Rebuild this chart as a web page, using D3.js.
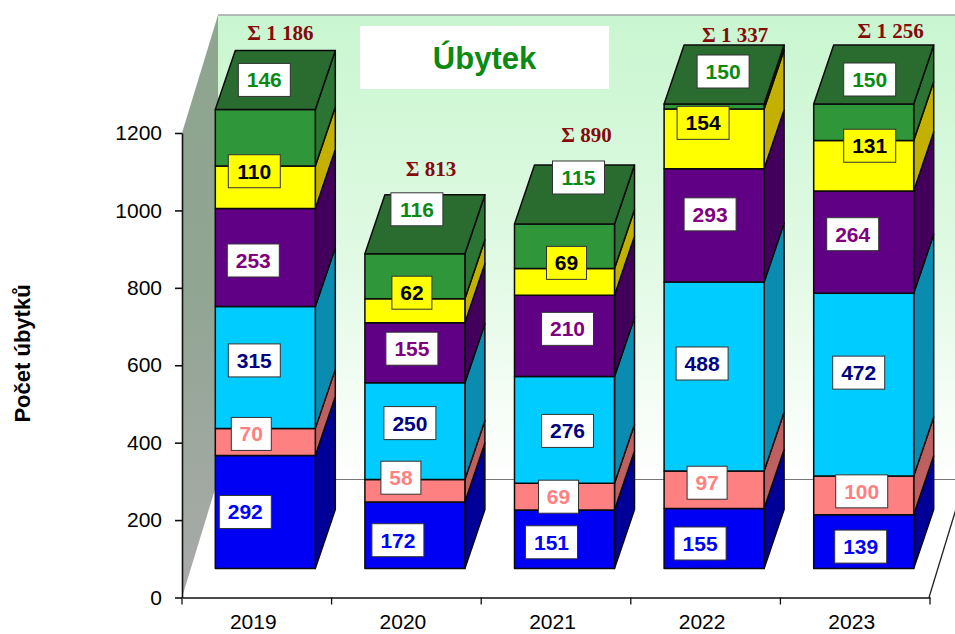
<!DOCTYPE html>
<html><head><meta charset="utf-8">
<script src="https://cdnjs.cloudflare.com/ajax/libs/d3/7.8.5/d3.min.js"></script>
<style>html,body{margin:0;padding:0;background:#fff}svg{display:block}</style>
</head><body><svg id="c" width="955" height="634"></svg>
<script>
const years = ["2019","2020","2021","2022","2023"];
const seriesBlue   = [292,172,151,155,139];
const seriesPink   = [70,58,69,97,100];
const seriesCyan   = [315,250,276,488,472];
const seriesPurple = [253,155,210,293,264];
const seriesYellow = [110,62,69,154,131];
const seriesGreen  = [146,116,115,150,150];
const totals = ["Σ 1 186","Σ 813","Σ 890","Σ 1 337","Σ 1 256"];
const yTicks = [0,200,400,600,800,1000,1200];
const titleText = "Úbytek";
const yTitle = "Počet úbytků";

const series = [
  {v:seriesBlue,  front:"#0000f5",side:"#000099",text:"#0000ff",box:"#fff"},
  {v:seriesPink,  front:"#ff8080",side:"#bf6060",text:"#ff8080",box:"#fff"},
  {v:seriesCyan,  front:"#00ccff",side:"#0a8cb0",text:"#000080",box:"#fff"},
  {v:seriesPurple,front:"#5f0085",side:"#42005c",text:"#800080",box:"#fff"},
  {v:seriesYellow,front:"#ffff00",side:"#c4b000",text:"#000",   box:"#ffff00"},
  {v:seriesGreen, front:"#2f963a",side:"#2c7433",text:"#0a8a14",box:"#fff",topFill:"#2a6b2f"}
];
// hand-placed label nudges (px) per series, per year
const nudgeX = [[-20,-17,-13,-14,-3],[-14,-14,-6,-7,-2],[-11,-5,3,-12,-5],[-12,-3,3,-4,-11],[-11,-3,2,-11,6],[-11,-8,4,-1,-4]];
const nudgeY = [[0,5,3,5,5],[-8,-13,0,-7,-4],[-7,-8,1,-13,-12],[3,-4,-7,-11,-8],[-16,-18,-19,-16,-20],[0,-15,-17,-3,5]];
const totalNudgeX = [-5,-4,2,1,7];
const totalNudgeY = [-17,-26,-30,-10,-14];

const svg = d3.select("#c");
const FF = "'Liberation Sans',Arial,sans-serif";
const axisY0 = 597.5, axisTop = 133, axisL = 182, axisR = 930;
const y = d3.scaleLinear().domain([0,1200]).range([axisY0,axisTop]);
const x = d3.scaleBand().domain(years).range([axisL,axisR]);
const wallDX = 36, wallDY = 118, depthX = 20, depthY = 59;
const barW = 100, barOffset = 33.3, floorLift = 29;

const defs = svg.append("defs");
const g1 = defs.append("linearGradient").attr("id","wall").attr("x1",0).attr("y1",0).attr("x2",0).attr("y2",1);
g1.append("stop").attr("offset",0).attr("stop-color","#c8f6cf");
g1.append("stop").attr("offset",.55).attr("stop-color","#e2fae5");
g1.append("stop").attr("offset",1).attr("stop-color","#ffffff");
const g2 = defs.append("linearGradient").attr("id","side").attr("x1",0).attr("y1",0).attr("x2",0).attr("y2",1);
g2.append("stop").attr("offset",0).attr("stop-color","#8ea58f");
g2.append("stop").attr("offset",.45).attr("stop-color","#90a592");
g2.append("stop").attr("offset",1).attr("stop-color","#aaaaaa");

const wallL = axisL+wallDX, wallT = axisTop-wallDY, floorY = axisY0-wallDY, farR = axisR+wallDX;
const poly = pts => pts.map(p=>p.join(",")).join(" ");
svg.append("polygon").attr("points",poly([[wallL,wallT],[farR,wallT],[farR,floorY],[wallL,floorY]])).attr("fill","url(#wall)");
svg.append("line").attr("x1",wallL).attr("y1",wallT).attr("x2",farR).attr("y2",wallT).attr("stroke","#a5a5a5").attr("stroke-width",1.5);
svg.append("polygon").attr("points",poly([[axisL,axisTop],[wallL,wallT],[wallL,floorY],[axisL,axisY0]])).attr("fill","url(#side)");
svg.append("line").attr("x1",wallL).attr("y1",floorY).attr("x2",farR).attr("y2",floorY).attr("stroke","#777").attr("stroke-width",1.2);
svg.append("line").attr("x1",axisR-1).attr("y1",axisY0).attr("x2",farR-1).attr("y2",floorY).attr("stroke","#222").attr("stroke-width",1.3);

// title box
svg.append("rect").attr("x",360).attr("y",26).attr("width",249).attr("height",63).attr("fill","#fff");
svg.append("text").attr("x",484.5).attr("y",69).attr("text-anchor","middle").attr("font-family",FF).attr("font-weight","bold").attr("font-size",31).attr("fill","#0a8a12").text(titleText);

// axes
const yAxis = d3.axisLeft(y).tickValues(yTicks).tickSize(7).tickSizeOuter(0).tickPadding(13).tickFormat(d3.format("d"));
const gy = svg.append("g").attr("transform",`translate(${axisL},0)`).call(yAxis);
gy.selectAll("text").attr("font-family",FF).attr("font-size",21).attr("fill","#000");
gy.selectAll("path,line").attr("stroke","#111").attr("stroke-width",1.6);
const xAxis = d3.axisBottom(x).tickSize(0).tickPadding(17);
const gx = svg.append("g").attr("transform",`translate(0,${axisY0})`).call(xAxis);
gx.selectAll("text").attr("font-family",FF).attr("font-size",21).attr("fill","#000").attr("dx",-3.5);
gx.selectAll("path").attr("stroke","#111").attr("stroke-width",1.6);
gx.selectAll(".bound").data(d3.range(years.length+1)).enter().append("line").attr("class","bound")
  .attr("x1",i=>axisL+i*x.step()).attr("x2",i=>axisL+i*x.step()).attr("y1",0).attr("y2",7).attr("stroke","#111").attr("stroke-width",1.3);
svg.append("text").attr("transform",`translate(29.5,353.5) rotate(-90)`).attr("text-anchor","middle")
  .attr("font-family",FF).attr("font-weight","bold").attr("font-size",22).attr("fill","#000").text(yTitle);

// stacks
const stackY = v => y(Math.min(v,1200)) - floorLift;
const bars = svg.append("g"), labels = svg.append("g");
years.forEach((yr,i)=>{
  const L = x(yr)+barOffset, R = L+barW;
  let cum = 0;
  series.forEach((s,si)=>{
    const val = s.v[i], y0 = stackY(cum), y1 = stackY(cum+val);
    const st = {stroke:"#0b0b0b","stroke-width":1.5,"stroke-linejoin":"round"};
    const add = (pts,fill)=>{ const p=bars.append("polygon").attr("points",poly(pts)).attr("fill",fill); for(const k in st)p.attr(k,st[k]); };
    add([[R,y0],[R+depthX,y0-depthY],[R+depthX,y1-depthY],[R,y1]],s.side);
    add([[L,y0],[R,y0],[R,y1],[L,y1]],s.front);
    if(si===series.length-1){
      add([[L,y1],[R,y1],[R+depthX,y1-depthY],[L+depthX,y1-depthY]],s.topFill);
      labels.append("text").attr("x",(L+R)/2+depthX+totalNudgeX[i]).attr("y",y1-depthY+totalNudgeY[i]+7)
        .attr("text-anchor","middle").attr("font-family","'Liberation Serif',serif").attr("font-weight","bold")
        .attr("font-size",21).attr("fill","#850a0a").text(totals[i]);
    }
    const isTop = si===series.length-1;
    const cx = (L+R)/2 + (isTop?depthX/2:0) + nudgeX[si][i];
    const cy = (isTop? y1-depthY/2 : (y0+y1)/2) + nudgeY[si][i];
    const txt = String(val), w = txt.length===2?40:52, h = 33;
    labels.append("rect").attr("x",cx-w/2).attr("y",cy-h/2).attr("width",w).attr("height",h)
      .attr("fill",s.box).attr("stroke","#333").attr("stroke-width",1);
    labels.append("text").attr("x",cx).attr("y",cy+7.5).attr("text-anchor","middle")
      .attr("font-family",FF).attr("font-weight","bold").attr("font-size",21).attr("fill",s.text).text(txt);
    cum += val;
  });
});
</script></body></html>
